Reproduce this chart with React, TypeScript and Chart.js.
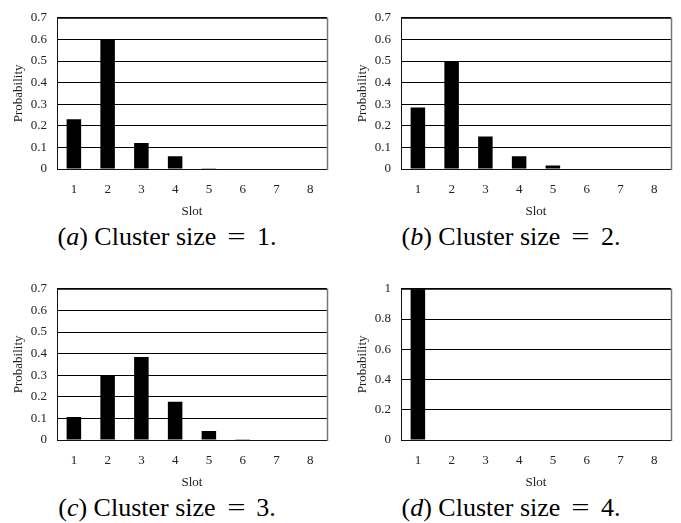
import React, { useEffect, useRef } from "react";
import { Chart, registerables } from "chart.js";

Chart.register(...registerables);

const slots = ["1", "2", "3", "4", "5", "6", "7", "8"];
const clusterSize1 = [0.23, 0.6, 0.12, 0.059, 0.003, 0, 0, 0];
const clusterSize2 = [0.285, 0.497, 0.151, 0.059, 0.016, 0, 0, 0];
const clusterSize3 = [0.106, 0.299, 0.384, 0.177, 0.042, 0.003, 0, 0];
const clusterSize4 = [1, 0, 0, 0, 0, 0, 0, 0];

const yMaxSmall = 0.7;
const yStepSmall = 0.1;
const yMaxLarge = 1;
const yStepLarge = 0.2;

const FONT = "'Liberation Serif', 'Times New Roman', serif";
const W = 340;
const H = 222;

const framePlugin = {
  id: "frame",
  afterDraw(chart: any) {
    const { ctx, chartArea } = chart;
    const { left, right, top, bottom } = chartArea;
    ctx.save();
    ctx.lineWidth = 1;
    ctx.strokeStyle = "#111";
    ctx.beginPath();
    ctx.moveTo(left + 0.5, bottom + 0.5);
    ctx.lineTo(left + 0.5, top + 0.5);
    ctx.lineTo(right + 0.5, top + 0.5);
    ctx.moveTo(left + 0.5, bottom + 0.5);
    ctx.lineTo(right + 0.5, bottom + 0.5);
    ctx.stroke();
    ctx.strokeStyle = "#777";
    ctx.lineWidth = 1.5;
    ctx.beginPath();
    ctx.moveTo(right + 0.5, top);
    ctx.lineTo(right + 0.5, bottom + 1);
    ctx.stroke();
    ctx.restore();
  },
};

function BarPanel(props: {
  left: number;
  top: number;
  values: number[];
  yMax: number;
  yStep: number;
  letter: string;
  size: string;
}) {
  const ref = useRef<HTMLCanvasElement | null>(null);
  useEffect(() => {
    if (!ref.current) return;
    const chart = new Chart(ref.current, {
      type: "bar",
      data: {
        labels: slots,
        datasets: [
          {
            data: props.values,
            backgroundColor: "#000",
            borderWidth: 0,
            categoryPercentage: 1,
            barPercentage: 0.43,
          },
        ],
      },
      options: {
        animation: false,
        responsive: false,
        devicePixelRatio: 1,
        layout: { padding: { left: 0, top: 12, right: 13, bottom: 0 } },
        plugins: {
          legend: { display: false },
          tooltip: { enabled: false },
        },
        scales: {
          x: {
            grid: { display: false, drawTicks: false },
            border: { display: false },
            ticks: {
              padding: 13,
              color: "#222",
              font: { family: FONT, size: 13 },
            },
            title: {
              display: true,
              text: "Slot",
              color: "#222",
              font: { family: FONT, size: 13 },
              padding: { top: 0, bottom: 3 },
            },
            afterFit: (s: any) => {
              s.height = 53;
            },
          },
          y: {
            min: 0,
            max: props.yMax,
            grid: { color: "#000", lineWidth: 1, drawTicks: false },
            border: { display: false },
            ticks: {
              stepSize: props.yStep,
              padding: 10,
              color: "#222",
              font: { family: FONT, size: 13 },
              callback: (v: any) => String(Number(Number(v).toFixed(2))),
            },
            title: {
              display: true,
              text: "Probability",
              color: "#222",
              font: { family: FONT, size: 13 },
              padding: { top: 11, bottom: 0 },
            },
            afterFit: (s: any) => {
              s.width = 57;
            },
          },
        },
      },
      plugins: [framePlugin],
    });
    return () => chart.destroy();
  }, []);
  return (
    <>
      <canvas
        ref={ref}
        width={W}
        height={H}
        style={{ position: "absolute", left: props.left, top: props.top, width: W, height: H }}
      />
      <div
        style={{
          position: "absolute",
          left: props.left,
          top: props.top + 224,
          width: 334,
          height: 26,
          lineHeight: "26px",
          fontSize: 26,
          fontFamily: FONT,
          textAlign: "center",
          color: "#000",
          whiteSpace: "nowrap",
        }}
      >
        (<i>{props.letter}</i>) Cluster size
        <span
          style={{
            display: "inline-block",
            margin: "0 13px 0 13px",
            transform: "scaleX(1.25)",
          }}
        >
          =
        </span>
        {props.size}.
      </div>
    </>
  );
}

export default function App() {
  return (
    <div
      style={{
        position: "absolute",
        left: 0,
        top: 0,
        width: 681,
        height: 523,
        background: "#fff",
        overflow: "hidden",
      }}
    >
      <BarPanel left={0} top={0} values={clusterSize1} yMax={yMaxSmall} yStep={yStepSmall} letter="a" size="1" />
      <BarPanel left={344} top={0} values={clusterSize2} yMax={yMaxSmall} yStep={yStepSmall} letter="b" size="2" />
      <BarPanel left={0} top={271} values={clusterSize3} yMax={yMaxSmall} yStep={yStepSmall} letter="c" size="3" />
      <BarPanel left={344} top={271} values={clusterSize4} yMax={yMaxLarge} yStep={yStepLarge} letter="d" size="4" />
    </div>
  );
}
